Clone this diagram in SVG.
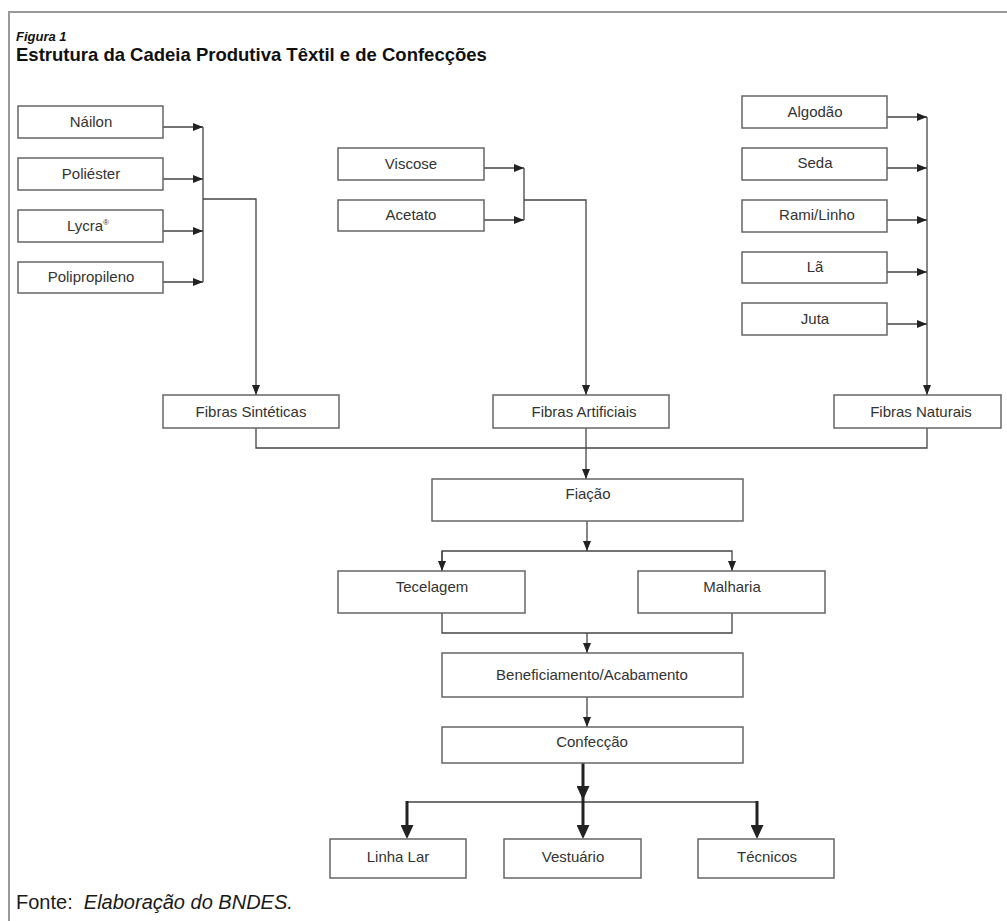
<svg xmlns="http://www.w3.org/2000/svg" width="1007" height="921" viewBox="0 0 1007 921">
<style>
.box{fill:#fff;stroke:#666;stroke-width:1.5}
.lbl{font-family:"Liberation Sans",Arial,sans-serif;font-size:15px;fill:#333;text-anchor:middle}
.ln{fill:none;stroke:#444;stroke-width:1.3}
.thk{fill:none;stroke:#222;stroke-width:3}
.frame{fill:none;stroke:#999;stroke-width:2}
</style>
<defs>
<marker id="arr" markerUnits="userSpaceOnUse" markerWidth="10" markerHeight="8" refX="10" refY="4" orient="auto"><path d="M0,0 L10,4 L0,8 z" fill="#222"/></marker>
<marker id="arrT" markerUnits="userSpaceOnUse" markerWidth="14" markerHeight="13" refX="9" refY="6.5" orient="auto"><path d="M0,0 L14,6.5 L0,13 z" fill="#222"/></marker>
</defs>
<rect width="1007" height="921" fill="#fff"/>
<path class="frame" d="M1007,12 H9 V921"/>
<text x="16" y="41" font-family="Liberation Sans,Arial,sans-serif" font-size="13" font-weight="bold" font-style="italic" fill="#111">Figura 1</text>
<text x="16" y="61" font-family="Liberation Sans,Arial,sans-serif" font-size="18.5" font-weight="bold" fill="#111">Estrutura da Cadeia Produtiva Têxtil e de Confecções</text>

<g id="connectors">
<!-- synthetic -->
<path class="ln" d="M163,127 H203" marker-end="url(#arr)"/>
<path class="ln" d="M163,179 H203" marker-end="url(#arr)"/>
<path class="ln" d="M163,231 H203" marker-end="url(#arr)"/>
<path class="ln" d="M163,282 H203" marker-end="url(#arr)"/>
<path class="ln" d="M203,127 V282"/>
<path class="ln" d="M203,199 H256 V395" marker-end="url(#arr)"/>
<!-- artificial -->
<path class="ln" d="M484,168 H524" marker-end="url(#arr)"/>
<path class="ln" d="M484,220 H524" marker-end="url(#arr)"/>
<path class="ln" d="M524,168 V220"/>
<path class="ln" d="M524,200 H586 V395" marker-end="url(#arr)"/>
<!-- natural -->
<path class="ln" d="M887,117 H927" marker-end="url(#arr)"/>
<path class="ln" d="M887,168 H927" marker-end="url(#arr)"/>
<path class="ln" d="M887,220 H927" marker-end="url(#arr)"/>
<path class="ln" d="M887,272 H927" marker-end="url(#arr)"/>
<path class="ln" d="M887,324 H927" marker-end="url(#arr)"/>
<path class="ln" d="M927,117 V395" marker-end="url(#arr)"/>
<!-- fibras to fiação -->
<path class="ln" d="M256,428 V448 H927 V428"/>
<path class="ln" d="M586,428 V479" marker-end="url(#arr)"/>
<!-- fiação to tecelagem/malharia -->
<path class="ln" d="M587,521 V551" marker-end="url(#arr)"/>
<path class="ln" d="M442,571 V551 H732 V571" marker-end="url(#arr)"/>
<path class="ln" d="M442,551 V571" marker-end="url(#arr)"/>
<path class="ln" d="M442,613 V633 H732 V613"/>
<path class="ln" d="M587,633 V653" marker-end="url(#arr)"/>
<path class="ln" d="M587,697 V727" marker-end="url(#arr)"/>
<!-- confecção outputs -->
<path class="thk" d="M583,763 V795" marker-end="url(#arrT)"/>
<path class="ln" d="M407,802 H757" style="stroke-width:1.6"/>
<path class="thk" d="M407,801 V834" marker-end="url(#arrT)"/>
<path class="thk" d="M583,795 V834" marker-end="url(#arrT)"/>
<path class="thk" d="M757,801 V834" marker-end="url(#arrT)"/>
</g>

<g id="nailon"><rect class="box" x="18" y="106" width="145" height="32"/><text class="lbl" x="91" y="127">Náilon</text></g>
<g id="poliester"><rect class="box" x="18" y="158" width="145" height="32"/><text class="lbl" x="91" y="179">Poliéster</text></g>
<g id="lycra"><rect class="box" x="18" y="210" width="145" height="32"/><text class="lbl" x="88" y="231">Lycra<tspan font-size="8" dy="-6">®</tspan></text></g>
<g id="polipropileno"><rect class="box" x="18" y="262" width="145" height="31"/><text class="lbl" x="91" y="282">Polipropileno</text></g>

<g id="viscose"><rect class="box" x="338" y="148" width="146" height="32"/><text class="lbl" x="411" y="169">Viscose</text></g>
<g id="acetato"><rect class="box" x="338" y="200" width="146" height="31"/><text class="lbl" x="411" y="220">Acetato</text></g>

<g id="algodao"><rect class="box" x="742" y="96" width="145" height="32"/><text class="lbl" x="815" y="117">Algodão</text></g>
<g id="seda"><rect class="box" x="742" y="148" width="145" height="32"/><text class="lbl" x="815" y="168">Seda</text></g>
<g id="rami"><rect class="box" x="742" y="200" width="145" height="32"/><text class="lbl" x="817" y="220">Rami/Linho</text></g>
<g id="la"><rect class="box" x="742" y="252" width="145" height="31"/><text class="lbl" x="815" y="272">Lã</text></g>
<g id="juta"><rect class="box" x="742" y="303" width="145" height="32"/><text class="lbl" x="815" y="324">Juta</text></g>

<g id="fibras-sinteticas"><rect class="box" x="163" y="395" width="176" height="33"/><text class="lbl" x="251" y="417">Fibras Sintéticas</text></g>
<g id="fibras-artificiais"><rect class="box" x="493" y="395" width="176" height="33"/><text class="lbl" x="584" y="417">Fibras Artificiais</text></g>
<g id="fibras-naturais"><rect class="box" x="834" y="395" width="167" height="33"/><text class="lbl" x="921" y="417">Fibras Naturais</text></g>

<g id="fiacao"><rect class="box" x="432" y="479" width="311" height="42"/><text class="lbl" x="588" y="499">Fiação</text></g>
<g id="tecelagem"><rect class="box" x="338" y="571" width="187" height="42"/><text class="lbl" x="432" y="592">Tecelagem</text></g>
<g id="malharia"><rect class="box" x="638" y="571" width="187" height="42"/><text class="lbl" x="732" y="592">Malharia</text></g>
<g id="beneficiamento"><rect class="box" x="442" y="653" width="301" height="44"/><text class="lbl" x="592" y="680">Beneficiamento/Acabamento</text></g>
<g id="confeccao"><rect class="box" x="442" y="727" width="301" height="36"/><text class="lbl" x="592" y="747">Confecção</text></g>

<g id="linha-lar"><rect class="box" x="330" y="839" width="136" height="39"/><text class="lbl" x="398" y="862">Linha Lar</text></g>
<g id="vestuario"><rect class="box" x="504" y="839" width="137" height="39"/><text class="lbl" x="573" y="862">Vestuário</text></g>
<g id="tecnicos"><rect class="box" x="698" y="839" width="136" height="39"/><text class="lbl" x="767" y="862">Técnicos</text></g>

<text x="16" y="909" font-family="Liberation Sans,Arial,sans-serif" font-size="20" fill="#1a1a1a" xml:space="preserve">Fonte:  <tspan font-style="italic">Elaboração do BNDES.</tspan></text>
</svg>
